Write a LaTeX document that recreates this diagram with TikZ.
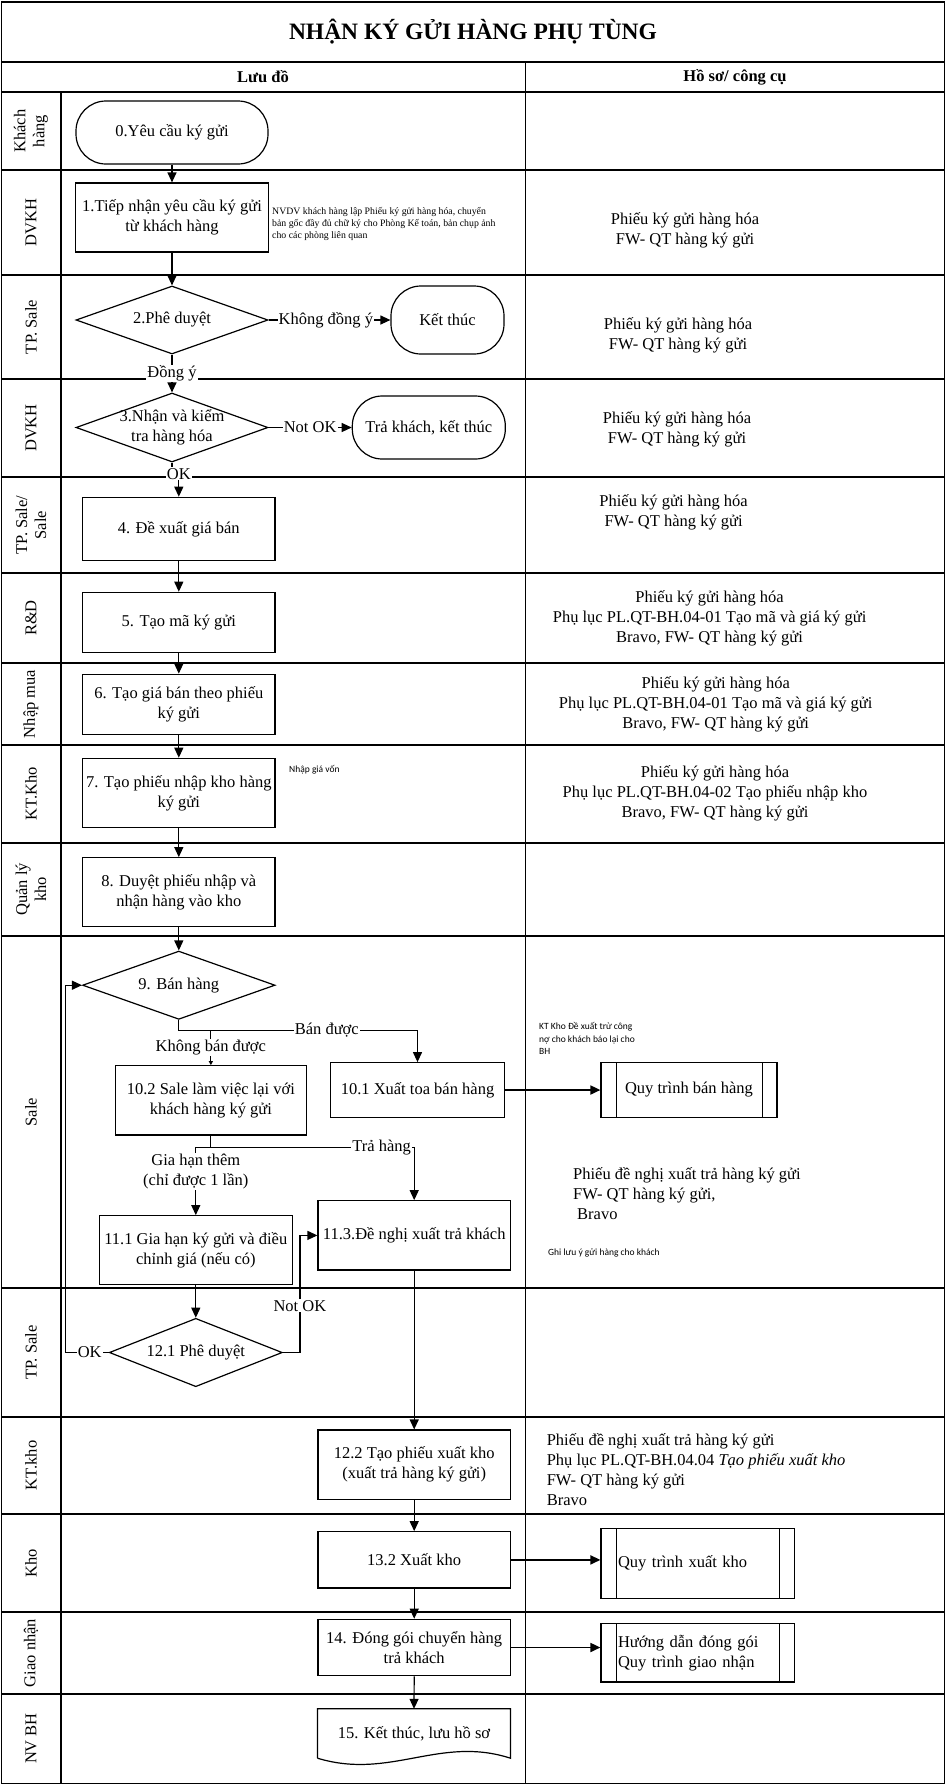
\documentclass[tikz,border=0pt]{standalone}
\usepackage{fontspec}
\setmainfont{Liberation Serif}
\newfontfamily\notefont{Carlito}
\usetikzlibrary{arrows.meta,positioning,shapes.geometric,calc}

\begin{document}
\begin{tikzpicture}[x=1pt, y=-1pt, font=\fontsize{16.5}{20}\selectfont]
  % Styles
  \tikzset{
    grid/.style={line width=1.6pt},
    lanelabel/.style={rotate=90, align=center, inner sep=0pt, font=\fontsize{16.5}{19}\selectfont},
    terminal/.style={draw, line width=1.2pt, rounded corners=30pt, align=center, inner sep=2pt},
    process/.style={draw, line width=1.2pt, align=center, inner sep=2pt, minimum width=192.5pt, minimum height=69pt},
    decision/.style={draw, diamond, aspect=2.8, line width=1.2pt, align=center, inner xsep=-20pt, inner ysep=-10pt, minimum width=192pt, minimum height=68pt},
    subproc/.style={draw, line width=1.2pt, inner sep=2pt, path picture={
        \draw[line width=1pt] ([xshift=15pt]path picture bounding box.north west) -- ([xshift=15pt]path picture bounding box.south west)
          ([xshift=-15pt]path picture bounding box.north east) -- ([xshift=-15pt]path picture bounding box.south east);}},
    docshape/.style={align=center, inner sep=2pt, minimum width=192.5pt, minimum height=49pt},
    record/.style={align=center, inner sep=0pt},
    recordleft/.style={align=left, anchor=west, inner sep=0pt},
    note/.style={align=left, anchor=west, inner sep=0pt, font=\fontsize{9.8}{12}\selectfont},
    notesans/.style={align=left, anchor=west, inner sep=0pt, font=\notefont\fontsize{9.5}{12.5}\selectfont},
    lbl/.style={fill=white, inner sep=1pt, align=center},
    line/.style={-{Triangle[length=10pt, width=9pt]}, line width=1.2pt},
    thinline/.style={-{Triangle[length=4pt, width=4pt]}, line width=1pt},
  }
  \useasboundingbox (0,0) rectangle (946,1786);

  % Frame and lanes
  \draw[grid] (1.5,2) rectangle (944.5,1783.5);
  \draw[grid] (1.5,62) -- (944.5,62) (1.5,92) -- (944.5,92);
  \draw[grid] (525.5,62) -- (525.5,1783.5) (61,92) -- (61,1783.5);
  \draw[grid] (1.5,170) -- (944.5,170) (1.5,275) -- (944.5,275) (1.5,379) -- (944.5,379)
    (1.5,477) -- (944.5,477) (1.5,573) -- (944.5,573) (1.5,663) -- (944.5,663)
    (1.5,745) -- (944.5,745) (1.5,843) -- (944.5,843) (1.5,936) -- (944.5,936)
    (1.5,1288) -- (944.5,1288) (1.5,1417) -- (944.5,1417) (1.5,1514) -- (944.5,1514)
    (1.5,1612) -- (944.5,1612) (1.5,1694) -- (944.5,1694);

  % Title and header
  \node (title) at (473,32) {\fontsize{23.5}{27}\selectfont\bfseries NHẬN KÝ GỬI HÀNG PHỤ TÙNG};
  \node (hflow) at (263,77) {\bfseries Lưu đồ};
  \node (hdocs) at (735,77) {\bfseries Hồ sơ/ công cụ};

  % Lane labels
  \node[lanelabel] (lKH)   at (31,131)    {Khách\\hàng};
  \node[lanelabel] (lDV1)  at (31,222.5)  {DVKH};
  \node[lanelabel] (lTP1)  at (31,327)    {TP. Sale};
  \node[lanelabel] (lDV2)  at (31,428)    {DVKH};
  \node[lanelabel] (lTPS)  at (31,525)    {TP. Sale/\\Sale};
  \node[lanelabel] (lRD)   at (31,618)    {R\&D};
  \node[lanelabel] (lNM)   at (31,704)    {Nhập mua};
  \node[lanelabel] (lKT1)  at (31,794)    {KT.Kho};
  \node[lanelabel] (lQLK)  at (31,889.5)  {Quản lý\\kho};
  \node[lanelabel] (lSale) at (31,1112)   {Sale};
  \node[lanelabel] (lTP2)  at (31,1352.5) {TP. Sale};
  \node[lanelabel] (lKT2)  at (31,1465.5) {KT.kho};
  \node[lanelabel] (lKho)  at (31,1563)   {Kho};
  \node[lanelabel] (lGN)   at (31,1653)   {Giao nhận};
  \node[lanelabel] (lNV)   at (31,1738.5) {NV BH};

  % Upper flow
  \node[terminal, minimum width=192pt, minimum height=63pt] (n0) at (172,132.5) {0.Yêu cầu ký gửi};
  \node[process] (n1) at (172,217.5) {1.Tiếp nhận yêu cầu ký gửi\\từ khách hàng};
  \node[decision] (d2) at (172,320) {2.Phê duyệt};
  \node[terminal, minimum width=113pt, minimum height=68pt] (e2) at (447.5,320) {Kết thúc};
  \node[decision, minimum height=69pt] (d3) at (172,427.5) {3.Nhận và kiểm\\tra hàng hóa};
  \node[terminal, minimum width=153pt, minimum height=63pt] (e3) at (428.8,427.5) {Trả khách, kết thúc};
  \node[process, minimum height=63pt] (n4) at (178.8,528.8) {4. Đề xuất giá bán};
  \node[process, minimum height=60pt] (n5) at (178.8,622.3) {5. Tạo mã ký gửi};
  \node[process, minimum height=60pt] (n6) at (178.8,704.2) {6. Tạo giá bán theo phiếu\\ký gửi};
  \node[process, minimum height=69.4pt] (n7) at (178.8,793) {7. Tạo phiếu nhập kho hàng\\ký gửi};
  \node[process] (n8) at (178.8,892.2) {8. Duyệt phiếu nhập và\\nhận hàng vào kho};

  % Sale lane
  \node[decision, minimum width=192.5pt, minimum height=68.3pt] (d9) at (178.8,985.2) {9. Bán hàng};
  \node[process, minimum width=174pt, minimum height=54.6pt] (n101) at (417.5,1090) {10.1 Xuất toa bán hàng};
  \node[subproc, minimum width=176pt, minimum height=55pt] (q101) at (689,1090) {Quy trình bán hàng};
  \node[process, minimum width=191.5pt, minimum height=69.3pt] (n102) at (210.85,1100.4) {10.2 Sale làm việc lại với\\khách hàng ký gửi};
  \node[process, minimum width=193pt, minimum height=68.6pt] (n111) at (195.8,1250) {11.1 Gia hạn ký gửi và điều\\chỉnh giá (nếu có)};
  \node[process, minimum width=192.4pt, minimum height=69.3pt] (n113) at (414.2,1235.4) {11.3.Đề nghị xuất trả khách};
  \node[decision, minimum width=173pt, minimum height=68.4pt] (d121) at (195.8,1352.5) {12.1 Phê duyệt};

  % Lower flow
  \node[process, minimum width=192.4pt, minimum height=69.3pt] (n122) at (414.2,1464.7) {12.2 Tạo phiếu xuất kho\\(xuất trả hàng ký gửi)};
  \node[process, minimum width=192.4pt, minimum height=56.3pt] (n132) at (414.2,1559.9) {13.2 Xuất kho};
  \node[subproc, minimum width=193.6pt, minimum height=70pt, inner xsep=17pt, text width=159.6pt, align=left] (q132) at (697.8,1563.3) {Quy trình xuất kho};
  \node[process, minimum width=192.4pt, minimum height=56.4pt] (n14) at (414.2,1647.5) {14. Đóng gói chuyển hàng\\trả khách};
  \node[subproc, minimum width=193.6pt, minimum height=58.7pt, inner xsep=17pt, text width=159.6pt, align=left] (q14) at (697.8,1652.7) {Hướng dẫn đóng gói\\Quy trình giao nhận};
  \node[docshape] (n15) at (414,1733.5) {15. Kết thúc, lưu hồ sơ};
  \draw[line width=1.2pt] (n15.south west) -- (n15.north west) -- (n15.north east) -- (n15.south east)
    .. controls ($(n15.south east)+(-70.7,-23)$) and ($(n15.south west)+(72.7,22)$) .. (n15.south west);

  % Notes
  \node[note] (nt1) at (272,224) {NVDV khách hàng lập Phiếu ký gửi hàng hóa, chuyển\\bản gốc đầy đủ chữ ký cho Phòng Kế toán, bản chụp ảnh\\cho các phòng liên quan};
  \node[notesans] (nt7) at (289,770) {Nhập giá vốn};
  \node[notesans] (nt10) at (539,1038.5) {KT Kho Đề xuất trừ công\\nợ cho khách báo lại cho\\BH};
  \node[notesans] (nt11) at (548,1252.7) {Ghi lưu ý gửi hàng cho khách};

  % Records and tools
  \node[record] (hs1) at (685,230)   {Phiếu ký gửi hàng hóa\\FW- QT hàng ký gửi};
  \node[record] (hs2) at (678,335)   {Phiếu ký gửi hàng hóa\\FW- QT hàng ký gửi};
  \node[record] (hs3) at (677,429)   {Phiếu ký gửi hàng hóa\\FW- QT hàng ký gửi};
  \node[record] (hs4) at (673.6,512.7) {Phiếu ký gửi hàng hóa\\FW- QT hàng ký gửi};
  \node[record] (hs5) at (709.6,618) {Phiếu ký gửi hàng hóa\\Phụ lục PL.QT-BH.04-01 Tạo mã và giá ký gửi\\Bravo, FW- QT hàng ký gửi};
  \node[record] (hs6) at (715.7,704) {Phiếu ký gửi hàng hóa\\Phụ lục PL.QT-BH.04-01 Tạo mã và giá ký gửi\\Bravo, FW- QT hàng ký gửi};
  \node[record] (hs7) at (715,793)   {Phiếu ký gửi hàng hóa\\Phụ lục PL.QT-BH.04-02 Tạo phiếu nhập kho\\Bravo, FW- QT hàng ký gửi};
  \node[recordleft] (hs11) at (573,1194) {Phiếu đề nghị xuất trả hàng ký gửi\\FW- QT hàng ký gửi,\\\hspace*{4pt}Bravo};
  \node[recordleft] (hs12) at (546.6,1469.3) {Phiếu đề nghị xuất trả hàng ký gửi\\Phụ lục PL.QT-BH.04.04 \textit{Tạo phiếu xuất kho}\\FW- QT hàng ký gửi\\Bravo};

  % Edges
  \draw[line] (n0.south) -- (n1.north);
  \draw[line] (n1.south) -- (d2.north);
  \draw[line] (d2.east) -- node[lbl, pos=0.47] {Không đồng ý} (e2.west);
  \draw[line] (d2.south) -- node[lbl] {Đồng ý} (d3.north);
  \draw[line] (d3.east) -- node[lbl] {Not OK} (e3.west);
  \draw[line] (d3.south) |- ([yshift=23pt]n4.north) node[lbl] {OK} -- (n4.north);
  \draw[line] (n4.south) -- (n5.north);
  \draw[line] (n5.south) -- (n6.north);
  \draw[line] (n6.south) -- (n7.north);
  \draw[line] (n7.south) -- (n8.north);
  \draw[line] (n8.south) -- (d9.north);
  \draw[line] (d9.south) |- node[lbl, pos=0.81] {Bán được} ([yshift=32pt]n101.north) -- (n101.north);
  \coordinate (nosale) at ([yshift=35pt]n102.north);
  \draw[thinline] (nosale) -- node[lbl] {Không bán được} (n102.north);
  \draw[line width=1.2pt] (n102.south) -- ++(0,11.7) coordinate (back);
  \draw[line] (back) -| node[lbl, pos=0.42] {Trả hàng} (n113.north);
  \draw[line] (back) -| node[lbl, pos=0.68] {Gia hạn thêm\\(chỉ được 1 lần)} (n111.north);
  \draw[line] (n111.south) -- (d121.north);
  \draw[line] (d121.east) -- ++(17,0) |- node[lbl, pos=0.2] {Not OK} (n113.west);
  \draw[line] (d121.west) -| node[lbl, pos=0.22] {OK} ([xshift=-16.5pt]d9.west) -- (d9.west);
  \draw[line] (n113.south) -- (n122.north);
  \draw[line] (n122.south) -- (n132.north);
  \draw[line] (n132.south) -- (n14.north);
  \draw[line] (n14.south) -- (n15.north);
  \draw[line, line width=1.8pt] (n101.east) -- (q101.west);
  \draw[line, line width=1.8pt] (n132.east) -- (n132.east -| q132.west);
  \draw[line, line width=1.8pt] (n14.east) -- (n14.east -| q14.west);
\end{tikzpicture}
\end{document}
